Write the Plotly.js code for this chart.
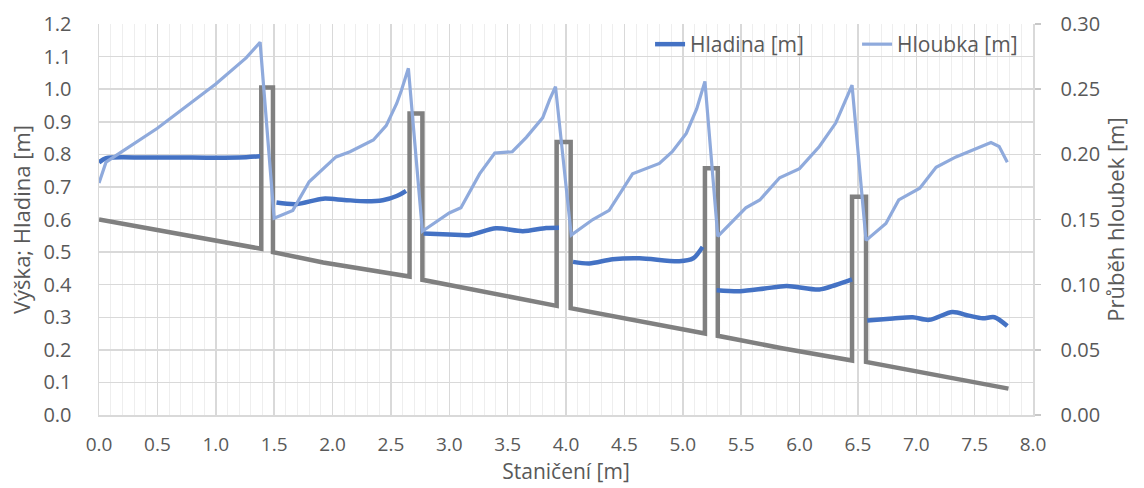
<!DOCTYPE html>
<html>
<head>
<meta charset="utf-8">
<script src="https://cdn.plot.ly/plotly-3.0.1.min.js"></script>
<style>html,body{margin:0;padding:0;background:#fff;}#chart{width:1144px;height:488px;}</style>
</head>
<body>
<div id="chart"></div>
<script>
// Gray profile (bed + weirs), left axis
const profileX = [0, 1.39, 1.39, 1.49, 1.49, 1.92, 2.66, 2.66, 2.77, 2.77, 3.92, 3.92, 4.04, 4.04, 5.19, 5.19, 5.30, 5.30, 5.85, 6.45, 6.45, 6.57, 6.57, 7.79];
const profileY = [0.60, 0.51, 1.005, 1.005, 0.50, 0.468, 0.425, 0.925, 0.925, 0.415, 0.335, 0.838, 0.838, 0.328, 0.25, 0.757, 0.757, 0.243, 0.205, 0.167, 0.670, 0.670, 0.163, 0.081];

// Hladina (water surface), left axis; null separates the pools
const hladinaX = [0.00, 0.06, 0.40, 0.80, 1.20, 1.38, null,
  1.52, 1.69, 1.92, 2.10, 2.29, 2.43, 2.55, 2.63, null,
  2.78, 3.00, 3.17, 3.40, 3.63, 3.83, 3.94, null,
  4.06, 4.20, 4.40, 4.63, 4.97, 5.09, 5.17, null,
  5.29, 5.49, 5.70, 5.89, 6.17, 6.31, 6.45, null,
  6.58, 6.80, 6.97, 7.11, 7.31, 7.45, 7.57, 7.67, 7.78];
const hladinaY = [0.775, 0.788, 0.790, 0.790, 0.790, 0.794, null,
  0.652, 0.647, 0.664, 0.660, 0.656, 0.659, 0.672, 0.688, null,
  0.557, 0.554, 0.552, 0.573, 0.564, 0.574, 0.575, null,
  0.470, 0.465, 0.478, 0.481, 0.472, 0.481, 0.516, null,
  0.383, 0.380, 0.388, 0.396, 0.385, 0.399, 0.416, null,
  0.290, 0.296, 0.300, 0.292, 0.316, 0.305, 0.297, 0.300, 0.273];

// Hloubka (depth), right axis
const hloubkaX = [0.00, 0.06, 0.50, 1.00, 1.26, 1.38, 1.50, 1.66, 1.80, 2.03, 2.15, 2.35, 2.46, 2.55, 2.59, 2.65,
  2.77, 3.00, 3.10, 3.26, 3.39, 3.54, 3.66, 3.80, 3.86, 3.91,
  4.045, 4.23, 4.37, 4.57, 4.80, 4.91, 5.03, 5.12, 5.19,
  5.30, 5.54, 5.66, 5.83, 6.00, 6.17, 6.31, 6.45,
  6.57, 6.74, 6.85, 7.03, 7.17, 7.34, 7.54, 7.64, 7.71, 7.78];
const hloubkaY = [0.178, 0.194, 0.220, 0.254, 0.274, 0.286, 0.151, 0.157, 0.179, 0.198, 0.202, 0.211, 0.222, 0.239, 0.249, 0.266,
  0.141, 0.155, 0.159, 0.185, 0.201, 0.202, 0.213, 0.228, 0.242, 0.252,
  0.138, 0.150, 0.157, 0.185, 0.193, 0.202, 0.216, 0.235, 0.256,
  0.137, 0.159, 0.165, 0.182, 0.189, 0.206, 0.224, 0.253,
  0.134, 0.147, 0.165, 0.174, 0.190, 0.198, 0.205, 0.209, 0.206, 0.194];

const xTicks = [0, 0.5, 1, 1.5, 2, 2.5, 3, 3.5, 4, 4.5, 5, 5.5, 6, 6.5, 7, 7.5, 8];

const FONT = 'Open Sans, Noto Sans, sans-serif';
const txt = '#595959';

const traces = [
  {x: profileX, y: profileY, mode: 'lines', line: {color: '#808080', width: 4.5}, showlegend: false, yaxis: 'y', hoverinfo: 'skip'},
  {x: hladinaX, y: hladinaY, mode: 'lines', name: 'Hladina [m]', connectgaps: false,
   line: {color: '#4472C4', width: 4.5, shape: 'spline', smoothing: 0.8}, yaxis: 'y'},
  {x: hloubkaX, y: hloubkaY, mode: 'lines', name: 'Hloubka [m]',
   line: {color: '#8FAADC', width: 3.2}, yaxis: 'y2'}
];

const layout = {
  width: 1144, height: 488,
  margin: {l: 99, r: 111, t: 24, b: 73},
  paper_bgcolor: '#fff', plot_bgcolor: '#fff',
  font: {family: FONT, color: txt, size: 20},
  showlegend: true,
  legend: {orientation: 'h', x: 0.59, y: 1.0, xanchor: 'left', yanchor: 'top',
           bgcolor: 'rgba(255,255,255,0)', font: {size: 21, color: txt},
           entrywidth: 162, entrywidthmode: 'pixels', tracegroupgap: 0},
  xaxis: {
    range: [0, 8], tickvals: xTicks, tickformat: '.1f',
    showgrid: true, gridcolor: '#D9D9D9', gridwidth: 1.5,
    minor: {dtick: 0.1, showgrid: true, gridcolor: '#EEEEEE', gridwidth: 1},
    showline: true, linecolor: '#D9D9D9', linewidth: 1.5, mirror: false,
    zeroline: false, ticks: '', ticklabelstandoff: 12,
    title: {text: 'Staničení [m]', font: {size: 21, color: txt}, standoff: 5},
    tickfont: {size: 19, color: txt}, automargin: false
  },
  yaxis: {
    range: [0, 1.2], dtick: 0.1, tickformat: '.1f',
    showgrid: true, gridcolor: '#D9D9D9', gridwidth: 1.5,
    showline: true, linecolor: '#D9D9D9', linewidth: 1.5,
    zeroline: false, ticks: '', ticklabelstandoff: 22,
    title: {text: 'Výška; Hladina [m]', font: {size: 22, color: txt}, standoff: 6},
    tickfont: {size: 20, color: txt}, automargin: false
  },
  yaxis2: {
    range: [0, 0.30], dtick: 0.05, tickformat: '.2f', overlaying: 'y', side: 'right',
    showgrid: false, zeroline: false, showline: true, linecolor: '#D9D9D9', linewidth: 1.5,
    ticks: 'outside', ticklen: 6, tickcolor: '#C8C8C8', tickwidth: 1.5, ticklabelstandoff: 16,
    title: {text: 'Průběh hloubek [m]', font: {size: 22, color: txt}, standoff: 6},
    tickfont: {size: 20, color: txt}, automargin: false
  }
};

Plotly.newPlot('chart', traces, layout, {displayModeBar: false, staticPlot: true});
</script>
</body>
</html>
